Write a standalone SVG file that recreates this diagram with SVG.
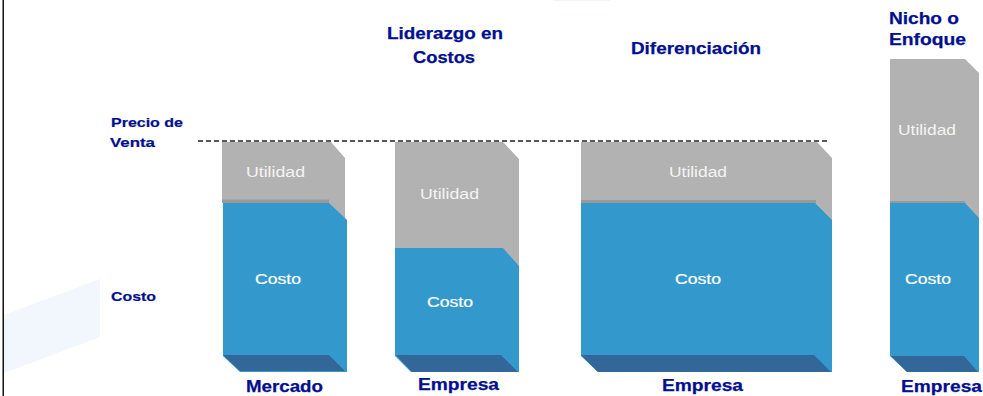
<svg xmlns="http://www.w3.org/2000/svg" width="983" height="396" viewBox="0 0 983 396">
<style>
text{font-family:"Liberation Sans",Arial,sans-serif}
.h{fill:#000f8f;font-weight:700;font-size:16px;stroke:#000f8f;stroke-width:.25}
.s{fill:#000f8f;font-weight:700;font-size:13px;stroke:#000f8f;stroke-width:.2}
.l{fill:#f4f4f4;font-size:14px}
.c{fill:#fff;font-size:14px;stroke:#fff;stroke-width:.2}
.g{fill:#b2b2b2}
.b{fill:#3399cc}
.d{fill:#336699}
.e{fill:#999999}
</style>
<rect width="983" height="396" fill="#fff"/>
<polygon points="4,315 100,279 100,337 4,373" fill="#f1f7fd"/>
<rect x="2.500" y="0" width="1.500" height="396" fill="#111"/>
<rect x="553" y="0" width="57" height="1" fill="#fdeef0"/>
<g id="connectors"><line x1="198" y1="141" x2="830" y2="141" stroke="#222" stroke-width="1.600" stroke-dasharray="5 3"/></g>
<g id="bar-mercado">
<polygon class="g" points="222,142 331,142 345,158 345,220 222,203"/>
<polygon class="b" points="223,203 329,203 347,220 347,372 240,372 223,356"/>
<rect class="e" x="222" y="199.500" width="107" height="3.500"/>
<polygon class="d" points="223,355 329,355 345,371 240,371"/>
<text class="l" x="246" y="177" textLength="59" lengthAdjust="spacingAndGlyphs">Utilidad</text>
<text class="c" x="255" y="284" textLength="46" lengthAdjust="spacingAndGlyphs">Costo</text>
<text class="h" x="246" y="392" textLength="77" lengthAdjust="spacingAndGlyphs">Mercado</text></g>
<g id="bar-liderazgo">
<polygon class="g" points="395,142 503,142 519,159 519,267 395,248"/>
<polygon class="b" points="395,248 503,248 519,266 519,372 411,372 395,356"/>
<polygon class="d" points="396,355 501,355 518,372 412,372"/>
<text class="h" x="387" y="39" textLength="116" lengthAdjust="spacingAndGlyphs">Liderazgo en</text>
<text class="h" x="413" y="63" textLength="62" lengthAdjust="spacingAndGlyphs">Costos</text>
<text class="l" x="420" y="199" textLength="59" lengthAdjust="spacingAndGlyphs">Utilidad</text>
<text class="c" x="427" y="307" textLength="46" lengthAdjust="spacingAndGlyphs">Costo</text>
<text class="h" x="418" y="390" textLength="81" lengthAdjust="spacingAndGlyphs">Empresa</text></g>
<g id="bar-diferenciacion">
<polygon class="g" points="581,142 817,142 832,158 832,220 581,203"/>
<polygon class="b" points="581,203 815,203 832,220 832,372 598,372 581,356"/>
<rect class="e" x="581" y="200" width="235" height="3"/>
<polygon class="d" points="581,355 814,355 831,372 598,372"/>
<text class="h" x="631" y="54" textLength="130" lengthAdjust="spacingAndGlyphs">Diferenciación</text>
<text class="l" x="669" y="177" textLength="58" lengthAdjust="spacingAndGlyphs">Utilidad</text>
<text class="c" x="675" y="284" textLength="46" lengthAdjust="spacingAndGlyphs">Costo</text>
<text class="h" x="662" y="391" textLength="81" lengthAdjust="spacingAndGlyphs">Empresa</text></g>
<g id="bar-nicho">
<polygon class="g" points="890,59 965,59 979,73 979,218 890,203"/>
<polygon class="b" points="890,203 965,203 979,218 979,372 907,372 890,356"/>
<rect class="e" x="890" y="201" width="75" height="2"/>
<polygon class="d" points="891,356 964,356 978,372 907,372"/>
<text class="h" x="889" y="24" textLength="70" lengthAdjust="spacingAndGlyphs">Nicho o</text>
<text class="h" x="889" y="45" textLength="77" lengthAdjust="spacingAndGlyphs">Enfoque</text>
<text class="l" x="898" y="135" textLength="58" lengthAdjust="spacingAndGlyphs">Utilidad</text>
<text class="c" x="905" y="284" textLength="46" lengthAdjust="spacingAndGlyphs">Costo</text>
<text class="h" x="901" y="392" textLength="81" lengthAdjust="spacingAndGlyphs">Empresa</text></g>
<g id="axis-labels">
<text class="s" x="111" y="127" textLength="72" lengthAdjust="spacingAndGlyphs">Precio de</text>
<text class="s" x="110" y="147" textLength="45" lengthAdjust="spacingAndGlyphs">Venta</text>
<text class="s" x="111" y="301" textLength="45" lengthAdjust="spacingAndGlyphs">Costo</text></g>
</svg>
